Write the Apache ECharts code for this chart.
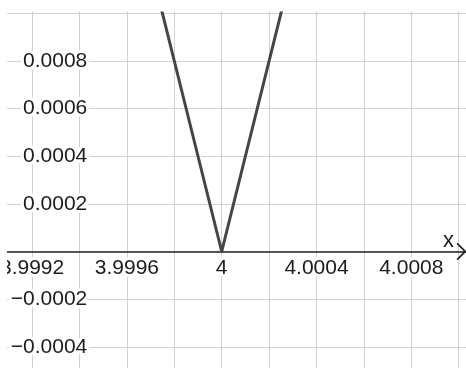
<!DOCTYPE html>
<html>
<head>
<meta charset="utf-8">
<script src="https://cdn.jsdelivr.net/npm/echarts@6/dist/echarts.min.js"></script>
<style>
  html, body { margin: 0; padding: 0; background: #fff; }
  #chart { width: 466px; height: 368px; }
</style>
</head>
<body>
<div id="chart"></div>
<script>
// y = |4x - 16| near its corner at x = 4
const xValues = [3.9997, 4, 4.0003];
const yValues = [0.0012, 0, 0.0012];

// visible window of the plane
const xMin = 3.9990, xMax = 4.0010308, xStep = 0.0002;
const yMin = -0.0006, yMax = 0.0010141, yStep = 0.0002;

const FONT = "'Liberation Sans', Arial, Helvetica, sans-serif";

function trimNum(v) {
  return String(Number(v.toFixed(4)));
}

const chart = echarts.init(document.getElementById('chart'), null, { renderer: 'canvas' });

const gridTop = 10, gridBottom = -26.4;
const plotH = 368 - gridTop - gridBottom;
// shift the x axis up from the bottom edge to the y = 0 level
const zeroOffset = -plotH * (0 - yMin) / (yMax - yMin);

chart.setOption({
  animation: false,
  backgroundColor: '#fff',
  grid: { left: -15.3, right: 0, top: gridTop, bottom: gridBottom, containLabel: false, outerBoundsMode: 'none' },
  xAxis: {
    type: 'value',
    min: xMin, max: xMax, interval: xStep,
    position: 'bottom',
    offset: zeroOffset,
    name: 'x',
    nameLocation: 'end',
    nameGap: -23,
    nameTextStyle: { fontFamily: FONT, fontSize: 22, color: '#1c1c1c', verticalAlign: 'bottom', align: 'left', lineHeight: 22 },
    axisLine: {
      onZero: false,
      lineStyle: { color: '#222', width: 1.5 },
      symbol: ['none', 'path://M0,10 L10,0 L20,10 L18.6,11.4 L10,2.8 L1.4,11.4 Z'],
      symbolSize: [18, 10],
      symbolOffset: [0, -4.5]
    },
    axisTick: { show: false },
    axisLabel: {
      margin: 6,
      fontFamily: FONT, fontSize: 21, color: '#1c1c1c',
      textBorderColor: '#fff', textBorderWidth: 6,
      formatter: function (v) {
        const k = Math.round(v * 1e4);
        if (Math.abs(v * 1e4 - k) > 1e-6) return '';
        return k % 4 === 0 ? trimNum(v) : '';
      }
    },
    splitLine: { show: true, lineStyle: { color: '#d2d2d2', width: 1 } }
  },
  yAxis: {
    type: 'value',
    min: yMin, max: yMax, interval: yStep,
    axisLine: { show: false },
    axisTick: { show: false },
    axisLabel: {
      margin: -102.6,
      align: 'right',
      padding: [7, 0, 0, 0],
      fontFamily: FONT, fontSize: 21, color: '#1c1c1c',
      textBorderColor: '#fff', textBorderWidth: 6,
      formatter: function (v) {
        const k = Math.round(v * 1e4);
        if (Math.abs(v * 1e4 - k) > 1e-6) return '';
        if (k === 0 || k >= 10) return '';
        return k < 0 ? '\u2212' + Math.abs(v).toFixed(4) : v.toFixed(4);
      }
    },
    splitLine: { show: true, lineStyle: { color: '#d2d2d2', width: 1 } }
  },
  series: [{
    type: 'line',
    data: xValues.map(function (x, i) { return [x, yValues[i]]; }),
    showSymbol: false,
    symbol: 'none',
    clip: true,
    lineStyle: { color: '#454545', width: 3, join: 'round' },
    z: 3
  }],
  // blank margin along the left and top edges of the picture
  graphic: [
    { type: 'rect', left: 0, top: 0, z: 100, shape: { width: 7, height: 368 }, style: { fill: '#fff' } },
    { type: 'rect', left: 0, top: 0, z: 100, shape: { width: 466, height: 11.5 }, style: { fill: '#fff' } }
  ]
});
</script>
</body>
</html>
